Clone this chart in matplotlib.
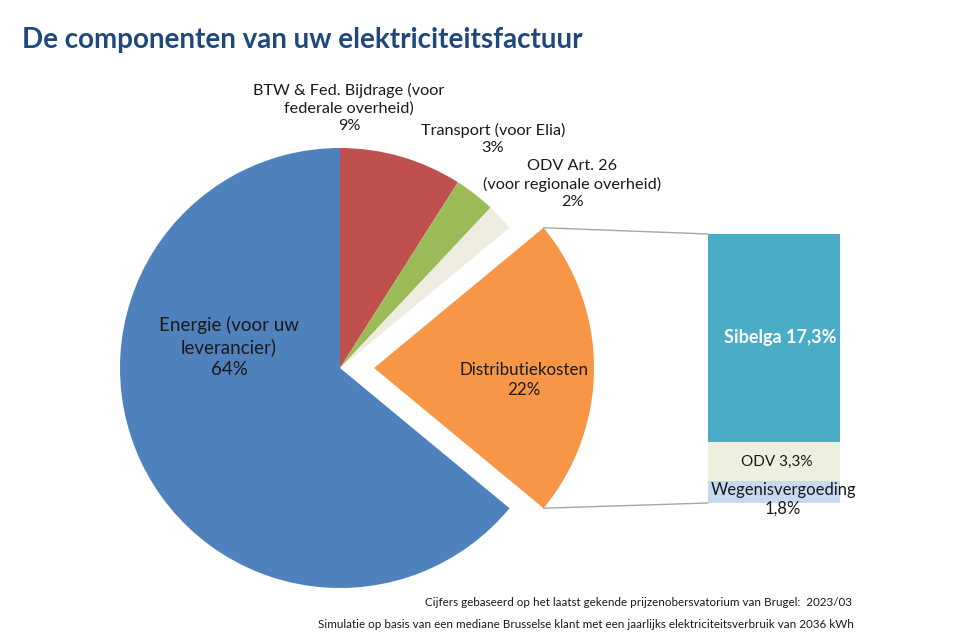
import matplotlib.pyplot as plt
from matplotlib.patches import ConnectionPatch
import numpy as np

plt.rcParams['font.family'] = ['Lato', 'DejaVu Sans']

# pie data (clockwise from 12 o'clock)
pie_labels = ['BTW & Fed. Bijdrage (voor\nfederale overheid)\n9%',
              'Transport (voor Elia)\n3%',
              'ODV Art. 26\n(voor regionale overheid)\n2%',
              'Distributiekosten\n22%',
              'Energie (voor uw\nleverancier)\n64%']
pie_values = [9, 3, 2, 22, 64]
pie_colors = ['#C0504D', '#9BBB59', '#EEECE1', '#F79646', '#4F81BD']

# breakdown of distribution costs (bottom to top)
bar_labels = ['Wegenisvergoeding\n1,8%', 'ODV 3,3%', 'Sibelga 17,3%']
bar_values = [1.8, 3.3, 17.3]
bar_colors = ['#C6D9F1', '#EBF1DE', '#4BACC6']

fig = plt.figure(figsize=(9.6, 6.4), dpi=100)
ax = fig.add_axes([0, 0, 1, 1])

# explode is in data units (pixels here)
explode = [0, 0, 0, 34, 0]
wedges, _ = ax.pie(pie_values, colors=pie_colors, startangle=90, counterclock=False,
                   explode=explode, center=(340, 272), radius=220,
                   wedgeprops=dict(linewidth=0), frame=True)
ax.set_xlim(0, 960)
ax.set_ylim(0, 640)
ax.set_aspect('equal')
ax.axis('off')

# labels (pixel positions, y measured from bottom)
lab_pos = [(349, 532), (493, 501), (572, 456), (524, 260), (229, 293)]
lab_size = [11.7, 11.7, 11.7, 12.2, 13.5]
for (x, y), txt, fs in zip(lab_pos, pie_labels, lab_size):
    ax.text(x, y, txt, ha='center', va='center', fontsize=fs, color='#1a1a1a',
            linespacing=1.3)

# stacked bar
bax = fig.add_axes([708 / 960, 137 / 640, 132 / 960, 269 / 640])
bottom = 0
for v, c in zip(bar_values, bar_colors):
    bax.bar(0, v, width=1, bottom=bottom, color=c, linewidth=0)
    bottom += v
bax.set_xlim(-0.5, 0.5)
bax.set_ylim(0, sum(bar_values))
bax.axis('off')

bax.text(0.05, bar_values[0] + bar_values[1] + bar_values[2] / 2, bar_labels[2],
         ha='center', va='center', color='white', fontsize=13, fontweight='bold')
bax.text(0.02, bar_values[0] + bar_values[1] / 2, bar_labels[1],
         ha='center', va='center', color='#1a1a1a', fontsize=11)
bax.text(0.07, bar_values[0] / 2 - 0.6, bar_labels[0], ha='center', va='center',
         color='#1a1a1a', fontsize=12, linespacing=1.15, clip_on=False)

# connector lines from exploded wedge to bar
w = wedges[3]
cx, cy = w.center
r = w.r
for ang, yb in [(w.theta2, sum(bar_values)), (w.theta1, 0)]:
    p = (cx + r * np.cos(np.radians(ang)), cy + r * np.sin(np.radians(ang)))
    con = ConnectionPatch(xyA=p, coordsA=ax.transData, xyB=(-0.5, yb), coordsB=bax.transData,
                          color='#a6a6a6', linewidth=1)
    fig.add_artist(con)

fig.text(22 / 960, 1 - 48 / 640, 'De componenten van uw elektriciteitsfactuur',
         fontsize=20, fontweight='bold', color='#1F497D', va='baseline')
fig.text(425 / 960, 1 - 603 / 640,
         'Cijfers gebaseerd op het laatst gekende prijzenobersvatorium van Brugel:  2023/03',
         fontsize=8.4, color='#1a1a1a', va='center')
fig.text(318 / 960, 1 - 624 / 640,
         'Simulatie op basis van een mediane Brusselse klant met een jaarlijks elektriciteitsverbruik van 2036 kWh',
         fontsize=8.4, color='#1a1a1a', va='center')

fig.savefig('out.png', dpi=100)
